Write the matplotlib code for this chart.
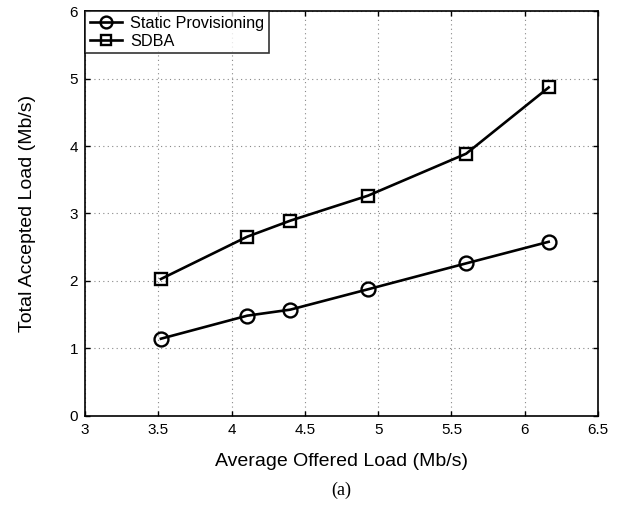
import matplotlib
matplotlib.use("Agg")
import matplotlib.pyplot as plt

offered_static = [3.518, 4.107, 4.40, 4.93, 5.60, 6.163]
accepted_static = [1.142, 1.484, 1.573, 1.875, 2.26, 2.58]
offered_sdba = [3.518, 4.107, 4.40, 4.93, 5.60, 6.163]
accepted_sdba = [2.028, 2.656, 2.893, 3.264, 3.887, 4.87]
xticks = [3, 3.5, 4, 4.5, 5, 5.5, 6, 6.5]
yticks = [0, 1, 2, 3, 4, 5, 6]

plt.rcParams['font.family'] = ['Liberation Sans', 'DejaVu Sans']

fig = plt.figure(figsize=(6.23, 5.13), dpi=100)
ax = fig.add_axes([0.1364, 0.1897, 0.8236, 0.7883])

ax.plot(offered_static, accepted_static, '-o', color='black', lw=1.9,
        markersize=10, markerfacecolor='none', markeredgewidth=1.7,
        label='Static Provisioning')
ax.plot(offered_sdba, accepted_sdba, '-s', color='black', lw=1.9,
        markersize=8, markerfacecolor='none', markeredgewidth=1.7,
        label='SDBA')

ax.set_xlim(3, 6.5)
ax.set_ylim(0, 6)
ax.set_xticks(xticks)
ax.set_xticklabels([f"{t:g}" for t in xticks])
ax.set_yticks(yticks)
ax.grid(True, linestyle=(0, (1, 3)), color='#888888', linewidth=0.8)
ax.tick_params(direction='in', top=True, right=True, labelsize=11, length=3.5,
               width=1.0, pad=5)
for s in ax.spines.values():
    s.set_linewidth(1.2)

ax.set_xlabel('Average Offered Load (Mb/s)', fontsize=14, labelpad=12)
ax.set_ylabel('Total Accepted Load (Mb/s)', fontsize=14, labelpad=24)

leg = ax.legend(loc='upper left', fontsize=11.7, frameon=True, fancybox=False,
                borderaxespad=0.0, handlelength=2.0, borderpad=0.3,
                labelspacing=0.15, handletextpad=0.5, markerscale=0.85)
leg.get_frame().set_edgecolor('black')
leg.get_frame().set_linewidth(1.2)

fig.text(0.5 * (0.1364 + 0.96), 1 - 490 / 513, '(a)', ha='center', va='center',
         fontsize=13, family=['Liberation Serif', 'DejaVu Serif'])

fig.savefig('out.png', dpi=100)
